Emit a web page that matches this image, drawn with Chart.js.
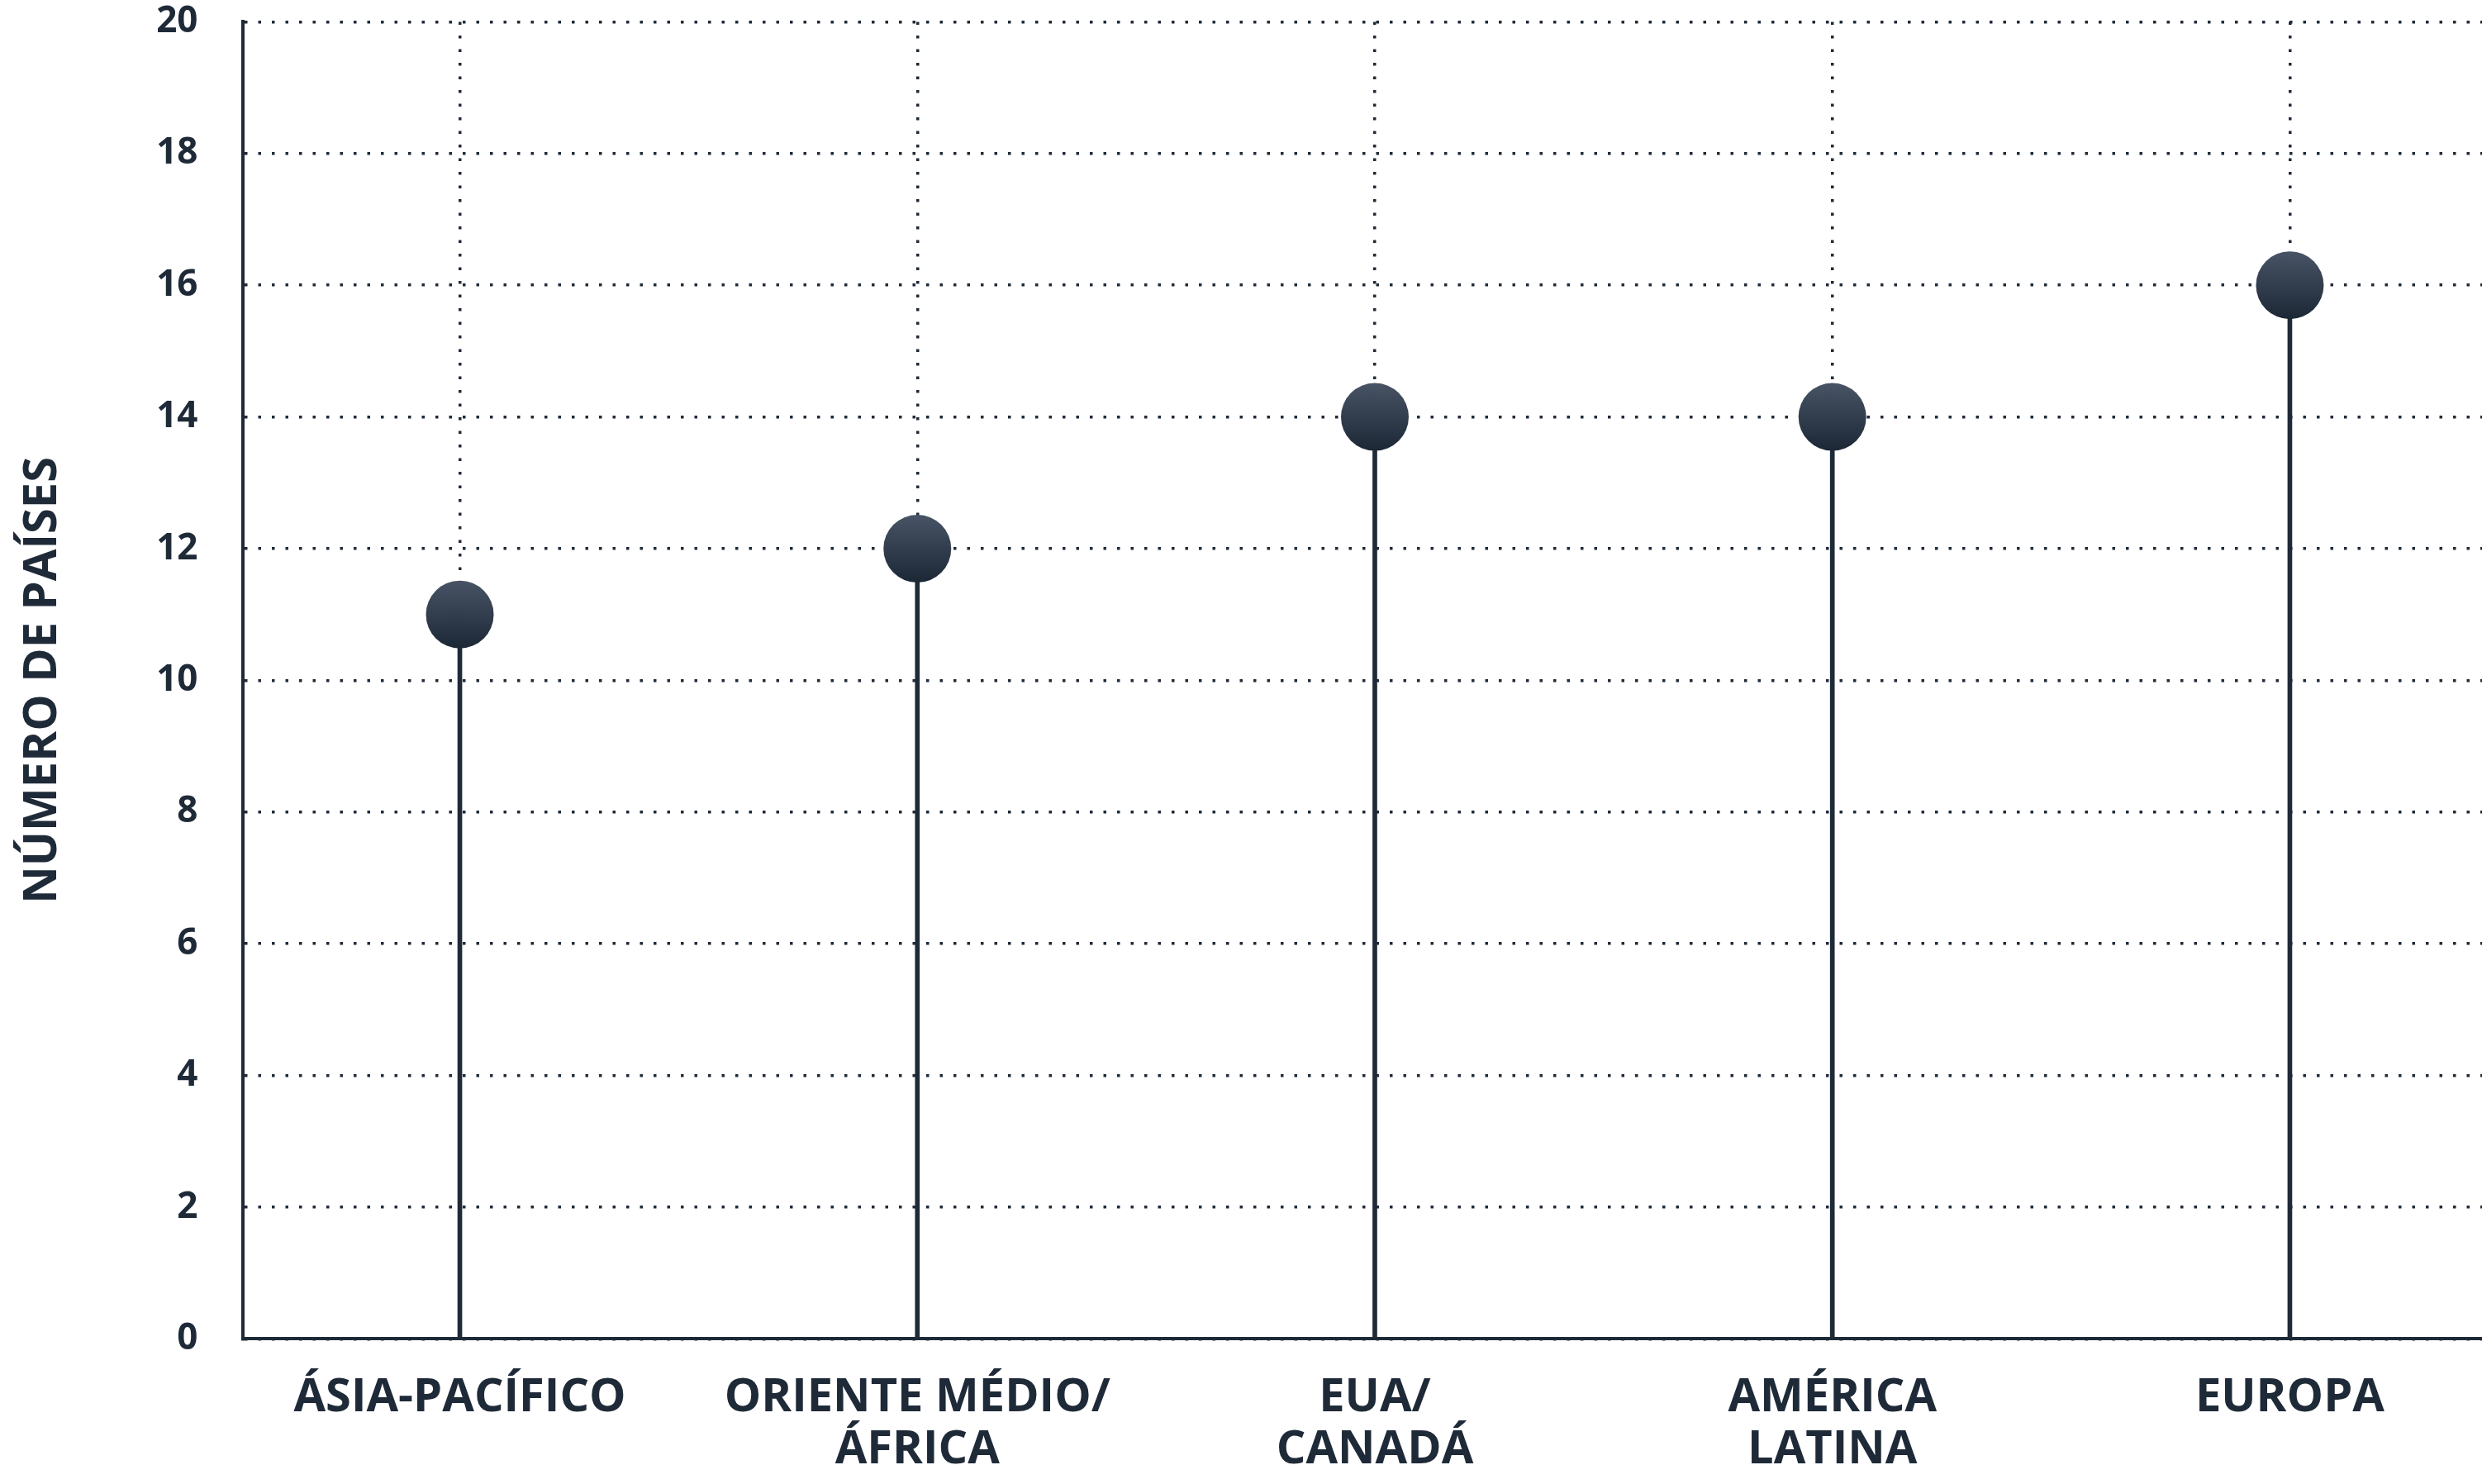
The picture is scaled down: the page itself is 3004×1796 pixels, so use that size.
<!DOCTYPE html>
<html>
<head>
<meta charset="utf-8">
<script src="https://cdn.jsdelivr.net/npm/chart.js@4"></script>
<style>
  html, body { margin: 0; padding: 0; background: #fff; }
  #wrap { width: 3004px; height: 1796px; }
</style>
</head>
<body>
<div id="wrap"><canvas id="chart"></canvas></div>
<script>
// ---------- dados ----------
const regions = [
  ['ÁSIA-PACÍFICO'],
  ['ORIENTE MÉDIO/', 'ÁFRICA'],
  ['EUA/', 'CANADÁ'],
  ['AMÉRICA', 'LATINA'],
  ['EUROPA'],
];
const countries = [11, 12, 14, 14, 16];
const yTicks = [0, 2, 4, 6, 8, 10, 12, 14, 16, 18, 20];
const yTitle = 'NÚMERO DE PAÍSES';

const ink = '#1f2a38';
const fontFamily = '"Open Sans", Lato, sans-serif';
const points = countries.map((v, i) => ({ x: i, y: v }));

// gradiente do marcador, calculado a partir da escala y
function markerFill(ctx) {
  const chart = ctx.chart;
  const ys = chart.scales && chart.scales.y;
  if (!ys || !ctx.raw) return '#2c3848';
  const cy = ys.getPixelForValue(ctx.raw.y);
  if (!isFinite(cy)) return '#2c3848';
  const g = chart.ctx.createLinearGradient(0, cy - 41, 0, cy + 41);
  g.addColorStop(0, '#485465');
  g.addColorStop(1, '#1c2736');
  return g;
}

const chart = new Chart(document.getElementById('chart'), {
  type: 'bar',
  data: {
    datasets: [
      {
        type: 'scatter',
        data: points,
        pointRadius: 41,
        pointHoverRadius: 41,
        pointBorderWidth: 0,
        backgroundColor: markerFill,
        order: 0,
      },
      {
        type: 'bar',
        data: points,
        backgroundColor: ink,
        barThickness: 5,
        order: 1,
      },
    ]
  },
  options: {
    responsive: true,
    maintainAspectRatio: false,
    animation: false,
    layout: { autoPadding: false, padding: { top: 0, right: 0, bottom: 9, left: 0 } },
    plugins: { legend: { display: false }, tooltip: { enabled: false } },
    scales: {
      x: {
        type: 'linear',
        offset: false,
        min: -0.475,
        max: 4.42,
        afterBuildTicks: axis => { axis.ticks = regions.map((r, i) => ({ value: i })); },
        grid: { offset: false, color: ink, lineWidth: 3.5, drawTicks: true, tickLength: 40, tickColor: 'rgba(0,0,0,0)' },
        border: { display: true, color: ink, width: 4, dash: [3.5, 13] },
        ticks: {
          autoSkip: false,
          maxRotation: 0,
          padding: 0,
          color: ink,
          font: { family: fontFamily, weight: 'bold', size: 56, lineHeight: 1.13 },
          callback: v => regions[v],
        }
      },
      y: {
        min: 0,
        max: 20,
        afterBuildTicks: axis => { axis.ticks = yTicks.map(v => ({ value: v })); },
        grid: { color: ink, lineWidth: 3.5, drawTicks: true, tickLength: 54, tickColor: 'rgba(0,0,0,0)' },
        border: { display: true, color: ink, width: 4, dash: [3.5, 13] },
        ticks: {
          padding: 0,
          color: ink,
          font: { family: fontFamily, weight: 'bold', size: 44 },
        },
        title: {
          display: true,
          text: yTitle,
          color: ink,
          font: { family: fontFamily, weight: 'bold', size: 56 },
          padding: { top: 18, bottom: 104 },
        }
      }
    }
  }
});
chart.update();
</script>
</body>
</html>
